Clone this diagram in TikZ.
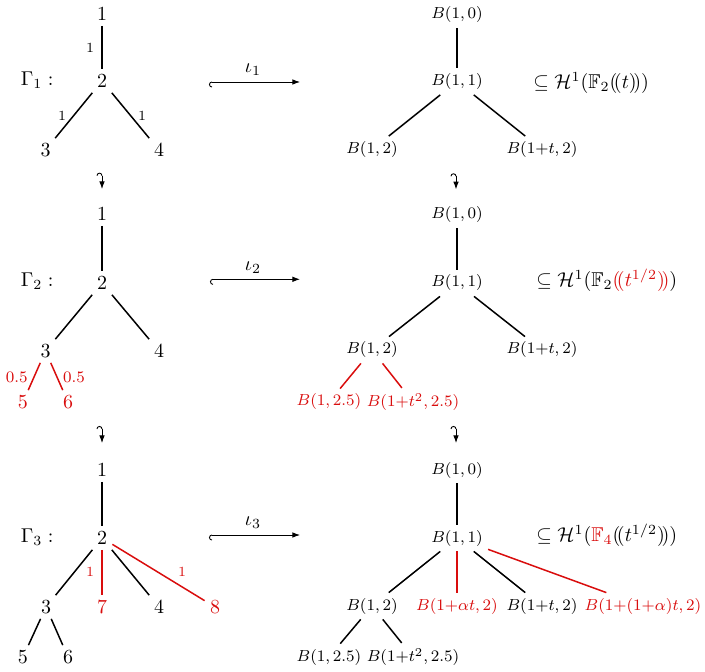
\documentclass[tikz,border=0pt]{standalone}
\usepackage{amssymb}
\usetikzlibrary{arrows.meta}
\definecolor{myred}{rgb}{0.85,0.05,0.05}
\newcommand{\mylp}{(\!(}
\newcommand{\myrp}{)\!)}
\begin{document}
\begin{tikzpicture}[x=0.5pt,y=-0.5pt,
 vx/.style={font=\fontsize{10}{12}\selectfont, inner sep=2.5pt},
 bx/.style={font=\footnotesize, inner sep=2.5pt},
 wt/.style={font=\scriptsize, inner sep=0pt},
 hw/.style={font=\footnotesize, inner sep=0pt},
 lbl/.style={anchor=base west, inner sep=0pt},
 ed/.style={line width=0.75pt},
 red edge/.style={ed, myred},
 hk/.style={line width=0.45pt, arrows={Hooks[left,width=5.5pt,length=1.5pt]-Latex[length=3.8pt,width=2.8pt]}},
 hkv/.style={line width=0.45pt, arrows={Hooks[left,width=5.5pt,length=1.5pt]-Latex[length=3.8pt,width=2.8pt]}},
 iota/.style={font=\normalsize, inner sep=0pt},
]
\useasboundingbox (0,0) rectangle (705,672);

% ---------------- Row 1 ----------------
\node[lbl] (g1) at (20.5,85.3) {$\Gamma_1:$};
\node[vx] (a1) at (102,14) {$1$};
\node[vx] (a2) at (102,81) {$2$};
\node[vx] (a3) at (45.5,150) {$3$};
\node[vx] (a4) at (159,150) {$4$};
\draw[ed] (a1) -- (a2);
\draw[ed] (a2) -- (a3);
\draw[ed] (a2) -- (a4);
\node[wt] (wa12) at (90,48) {$1$};
\node[wt] (wa23) at (62,116) {$1$};
\node[wt] (wa24) at (142,116) {$1$};

\coordinate (i1s) at (209,82);
\coordinate (i1e) at (300,82);
\draw[hk] (i1s) -- (i1e);
\node[iota] (i1) at (253,70) {$\iota_1$};

\node[bx] (b10) at (457,15) {$B(1,0)$};
\node[bx] (b11) at (457,81.5) {$B(1,1)$};
\node[bx] (b12) at (372,149.5) {$B(1,2)$};
\node[bx] (b1t) at (542,149.5) {$B(1{+}t,2)$};
\draw[ed] (b10) -- (b11);
\draw[ed] (b11) -- (b12);
\draw[ed] (b11) -- (b1t);
\node[lbl] (h1) at (533,88.5) {$\subseteq\mathcal{H}^1(\mathbb{F}_2\mylp t\myrp)$};

% vertical hooks 1->2
\coordinate (v1s) at (102,172.7);
\coordinate (v1e) at (102,189);
\draw[hkv] (v1s) -- (v1e);
\coordinate (w1s) at (456,173.3);
\coordinate (w1e) at (456,189.3);
\draw[hkv] (w1s) -- (w1e);

% ---------------- Row 2 ----------------
\node[lbl] (g2) at (20.5,286.7) {$\Gamma_2:$};
\node[vx] (c1) at (102,214) {$1$};
\node[vx] (c2) at (102,283) {$2$};
\node[vx] (c3) at (45.5,351) {$3$};
\node[vx] (c4) at (159,351) {$4$};
\node[vx, text=myred] (c5) at (23,402) {$5$};
\node[vx, text=myred] (c6) at (68,402) {$6$};
\draw[ed] (c1) -- (c2);
\draw[ed] (c2) -- (c3);
\draw[ed] (c2) -- (c4);
\draw[red edge] (c3) -- (c5);
\draw[red edge] (c3) -- (c6);
\node[hw, text=myred] (wc35) at (16.7,377) {$0.5$};
\node[hw, text=myred] (wc36) at (74,377) {$0.5$};

\coordinate (i2s) at (210,279.3);
\coordinate (i2e) at (300,279.3);
\draw[hk] (i2s) -- (i2e);
\node[iota] (i2) at (253,267.3) {$\iota_2$};

\node[bx] (d10) at (457,215) {$B(1,0)$};
\node[bx] (d11) at (457,283) {$B(1,1)$};
\node[bx] (d12) at (372,350) {$B(1,2)$};
\node[bx] (d1t) at (542,350) {$B(1{+}t,2)$};
\node[bx, text=myred] (d25) at (329,402) {$B(1,2.5)$};
\node[bx, text=myred] (d2t) at (413,402) {$B(1{+}t^2,2.5)$};
\draw[ed] (d10) -- (d11);
\draw[ed] (d11) -- (d12);
\draw[ed] (d11) -- (d1t);
\draw[red edge] (d12) -- (d25);
\draw[red edge] (d12) -- (d2t);
\node[lbl] (h2) at (536,286.7) {$\subseteq\mathcal{H}^1(\mathbb{F}_2\textcolor{myred}{\mylp t^{1/2}\myrp})$};

% vertical hooks 2->3
\coordinate (v2s) at (102,426);
\coordinate (v2e) at (102,443);
\draw[hkv] (v2s) -- (v2e);
\coordinate (w2s) at (456,426);
\coordinate (w2e) at (456,443);
\draw[hkv] (w2s) -- (w2e);

% ---------------- Row 3 ----------------
\node[lbl] (g3) at (20.5,542.5) {$\Gamma_3:$};
\node[vx] (e1) at (102,470) {$1$};
\node[vx] (e2) at (102,538) {$2$};
\node[vx] (e3) at (46,607) {$3$};
\node[vx, text=myred] (e7) at (102,607) {$7$};
\node[vx] (e4) at (159,607) {$4$};
\node[vx, text=myred] (e8) at (215,607) {$8$};
\node[vx] (e5) at (23,657) {$5$};
\node[vx] (e6) at (68,657) {$6$};
\draw[ed] (e1) -- (e2);
\draw[ed] (e2) -- (e3);
\draw[red edge] (e2) -- (e7);
\draw[ed] (e2) -- (e4);
\draw[red edge] (e2) -- (e8);
\draw[ed] (e3) -- (e5);
\draw[ed] (e3) -- (e6);
\node[wt, text=myred] (we27) at (90,572) {$1$};
\node[wt, text=myred] (we28) at (182,572) {$1$};

\coordinate (i3s) at (209,535);
\coordinate (i3e) at (300,535);
\draw[hk] (i3s) -- (i3e);
\node[iota] (i3) at (253,523) {$\iota_3$};

\node[bx] (f10) at (457,470) {$B(1,0)$};
\node[bx] (f11) at (457,538) {$B(1,1)$};
\node[bx] (f12) at (372,606) {$B(1,2)$};
\node[bx, text=myred] (f1a) at (457,606) {$B(1{+}\alpha t,2)$};
\node[bx] (f1t) at (542,606) {$B(1{+}t,2)$};
\node[bx, text=myred] (f1b) at (643,606) {$B(1{+}(1{+}\alpha)t,2)$};
\node[bx] (f25) at (329,657) {$B(1,2.5)$};
\node[bx] (f2t) at (413,657) {$B(1{+}t^2,2.5)$};
\draw[ed] (f10) -- (f11);
\draw[ed] (f11) -- (f12);
\draw[red edge] (f11) -- (f1a);
\draw[ed] (f11) -- (f1t);
\draw[red edge] (f11) -- (f1b);
\draw[ed] (f12) -- (f25);
\draw[ed] (f12) -- (f2t);
\node[lbl] (h3) at (536,541.7) {$\subseteq\mathcal{H}^1(\textcolor{myred}{\mathbb{F}_4}\mylp t^{1/2}\myrp)$};
\end{tikzpicture}
\end{document}
